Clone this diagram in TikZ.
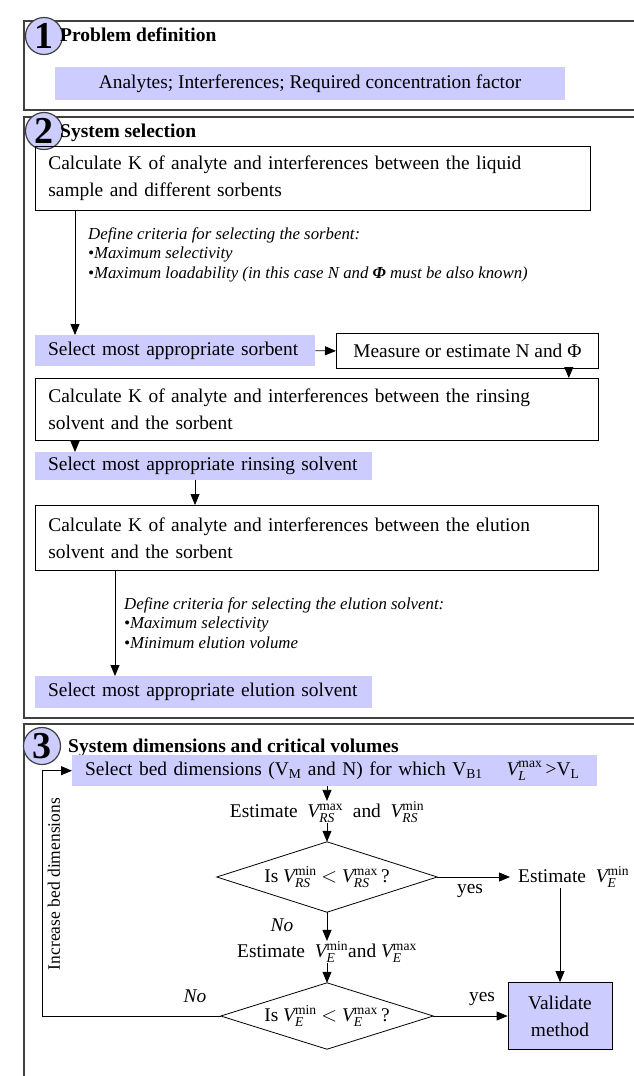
\documentclass[tikz,border=0pt]{standalone}
\usepackage{fontspec}
\setmainfont{Liberation Serif}
\usepackage{amsmath}
\usetikzlibrary{arrows.meta}
\definecolor{lav}{RGB}{204,204,255}
\newcommand\VV[3]{$\textit{#1}^{\textup{#2}}_{\textit{#3}}$}
\begin{document}
\begin{tikzpicture}[x=1pt,y=-1pt,
  frame/.style={draw=black!75, line width=1.3pt},
  numc/.style={circle, draw=black!75, line width=1.2pt, fill=lav, minimum size=37pt, inner sep=0pt, font=\bfseries\fontsize{38}{38}\selectfont},
  head/.style={anchor=west, inner sep=0pt, font=\bfseries\fontsize{19.5}{22}\selectfont},
  mf/.style={font=\fontsize{19.4}{27}\selectfont},
  wbox/.style={mf, draw, line width=0.8pt, anchor=north west, align=left, inner xsep=13pt, inner ysep=0pt},
  bbox/.style={mf, fill=lav, anchor=north west, align=left, inner xsep=13pt, inner ysep=0pt},
  crit/.style={anchor=north west, align=left, inner sep=0pt, font=\itshape\fontsize{16.8}{19.6}\selectfont},
  plain/.style={mf, inner sep=0pt},
  arr/.style={-{Triangle[length=11pt,width=9pt]}, line width=0.8pt},
  ln/.style={line width=0.8pt}]
\clip (0,0) rectangle (634,1076);
\fill[white] (0,0) rectangle (634,1076);

% ---------- section frames
\draw[frame] (640,21) -- (24,21) -- (24,110) -- (640,110);
\draw[frame] (640,117) -- (24,117) -- (24,718) -- (640,718);
\draw[frame] (640,724) -- (24,724) -- (24,1085);
\node[numc] (c1) at (44,36) {1};
\node[numc] (c2) at (44,131) {2};
\node[numc] (c3) at (42,746) {3};
\node[head] (h1) at (60,35) {Problem definition};
\node[head] (h2) at (60,133) {System selection};
\node[head] (h3) at (68,748) {System dimensions and critical volumes};

% ---------- section 1
\node[mf, fill=lav, minimum width=510pt, minimum height=33pt, inner sep=0pt] (P) at (310,83.5) {Analytes; Interferences; Required concentration factor};

% ---------- section 2
\node[wbox, text width=529pt, minimum height=64pt] (A) at (35,146) {Calculate K of analyte and interferences between the liquid\\sample and different sorbents};
\node[crit] (cr1) at (88,227) {Define criteria for selecting the sorbent:\\\textbullet Maximum selectivity\\\textbullet Maximum loadability (in this case N and \textbf{Φ} must be also known)};
\node[bbox, text width=254pt, minimum height=31pt] (B) at (35,335) {\mbox{Select most appropriate sorbent}};
\node[mf, draw, line width=0.8pt, anchor=north west, inner sep=0pt, minimum width=262pt, minimum height=35pt] (C) at (336,333) {Measure or estimate N and Φ};
\node[wbox, text width=537pt, minimum height=62pt] (D) at (35,378) {Calculate K of analyte and interferences between the rinsing\\solvent and the sorbent};
\node[bbox, text width=311pt, minimum height=28pt] (E) at (35,452) {\mbox{Select most appropriate rinsing solvent}};
\node[wbox, text width=537pt, minimum height=65pt] (F) at (35,505) {Calculate K of analyte and interferences between the elution\\solvent and the sorbent};
\node[crit] (cr2) at (124,597) {Define criteria for selecting the elution solvent:\\\textbullet Maximum selectivity\\\textbullet Minimum elution volume};
\node[bbox, text width=311pt, minimum height=32pt] (G) at (35,676) {\mbox{Select most appropriate elution solvent}};

\draw[arr] ([xshift=40pt]A.south west) -- ([xshift=40pt]B.north west);
\draw[arr] (B.east) -- (C.west);
\draw[arr] ([xshift=-30pt]C.south east) -- ([xshift=-30pt]C.south east |- D.north);
\draw[arr] ([xshift=40pt]D.south west) -- ([xshift=40pt]E.north west);
\draw[arr] ([xshift=160pt]E.south west) -- ([xshift=160pt]F.north west);
\draw[arr] ([xshift=80pt]F.south west) -- ([xshift=80pt]G.north west);

% ---------- section 3
\node[bbox, text width=499pt, minimum height=31pt] (H) at (72,755) {\mbox{Select bed dimensions (V\textsubscript{M} and N) for which V\textsubscript{B1}\hspace{24pt}\VV{V}{max}{L}\,>V\textsubscript{L}}};
\node[plain] (I) at (327,812) {Estimate\ \ \VV{V}{max}{RS}\ \ and\ \ \VV{V}{min}{RS}};
\node[plain, minimum width=220pt, minimum height=70pt] (D1) at (327,877) {Is \VV{V}{min}{RS} $<$ \VV{V}{max}{RS}\,?};
\draw[ln] (D1.west) -- (D1.north) -- (D1.east) -- (D1.south) -- cycle;
\node[plain, anchor=west] (J) at (510,877) {\hspace{8pt}Estimate\ \ \VV{V}{min}{E}};
\node[plain] (K) at (327,952) {Estimate\ \ \VV{V}{min}{E}and \VV{V}{max}{E}};
\node[plain, minimum width=212pt, minimum height=66pt] (D2) at (327,1016) {Is \VV{V}{min}{E} $<$ \VV{V}{max}{E}\,?};
\draw[ln] (D2.west) -- (D2.north) -- (D2.east) -- (D2.south) -- cycle;
\node[mf, draw, line width=0.8pt, fill=lav, align=center, minimum width=104pt, minimum height=67pt, inner sep=0pt] (V) at (560,1016) {Validate\\method};
\node[font=\fontsize{17.5}{19}\selectfont, rotate=90, inner sep=0pt] (inc) at (54,884) {Increase bed dimensions};

\node[plain] (y1) at (470,891) {yes};
\node[plain, font=\itshape\fontsize{19.4}{22}\selectfont] (n1) at (282,925) {No};
\node[plain] (y2) at (482,999) {yes};
\node[plain, font=\itshape\fontsize{19.4}{22}\selectfont] (n2) at (195,996) {No};

\coordinate (fb) at (42,1016);
\draw[arr] (I.north |- H.south) -- (I.north);
\draw[arr] (I.south) -- (D1.north);
\draw[arr] (D1.east) -- (J.west);
\draw[arr] (D1.south) -- (K.north);
\draw[arr] (K.south) -- (D2.north);
\draw[arr] (D2.east) -- (V.west);
\draw[arr] (V.north |- J.south) -- (V.north);
\draw[arr] (D2.west) -- (fb) |- (H.west);
\end{tikzpicture}
\end{document}
